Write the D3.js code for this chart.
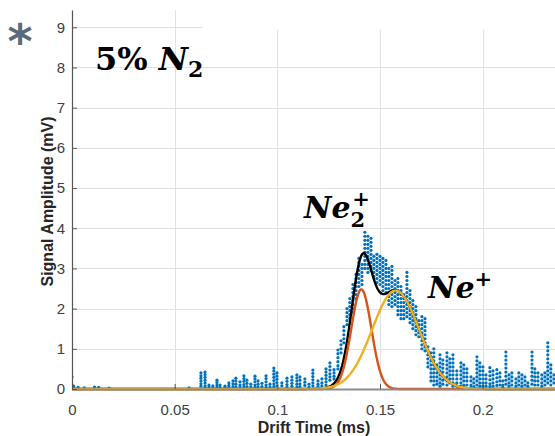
<!DOCTYPE html>
<html>
<head>
<meta charset="utf-8">
<script src="https://cdn.jsdelivr.net/npm/d3@7"></script>
<style>
  html, body { margin: 0; padding: 0; background: #fff; }
  svg { display: block; }
</style>
</head>
<body>
<svg id="chart" width="555" height="436"></svg>
<script>
// Axis ticks
const xTicks = [0, 0.05, 0.1, 0.15, 0.2];
const xTickLabels = ["0", "0.05", "0.1", "0.15", "0.2"];
const yTicks = [0, 1, 2, 3, 4, 5, 6, 7, 8, 9];

// Gaussian fit components: Ne2+ (red), Ne+ (yellow); the black curve is their sum
const fitNames = ["Ne2+", "Ne+"];
const fitAmplitude = [2.48, 2.45];   // mV
const fitCenter = [0.1409, 0.1576];  // ms
const fitSigma = [0.0049, 0.0114];   // ms

// Measured signal, grouped in bursts of samples that share a drift time
const burstTime = [
  0.0000, 0.0008, 0.0030, 0.0060, 0.0110, 0.0130, 0.0180, 0.0570,
  0.0628, 0.0648, 0.0667, 0.0686, 0.0706, 0.0721, 0.0745, 0.0764, 0.0784, 0.0798,
  0.0818, 0.0837, 0.0852, 0.0871, 0.0891, 0.0906, 0.0925, 0.0945, 0.0964, 0.0983,
  0.0998, 0.1022, 0.1047, 0.1071, 0.1095, 0.1110, 0.1134, 0.1154, 0.1173, 0.1198,
  0.1217, 0.1237, 0.1256, 0.1276, 0.1295, 0.1310, 0.1324, 0.1339, 0.1353,
  0.1368, 0.1383, 0.1397, 0.1412, 0.1426, 0.1441, 0.1456, 0.1470, 0.1485, 0.1500,
  0.1514, 0.1529, 0.1543, 0.1558, 0.1573, 0.1587, 0.1602, 0.1616, 0.1631, 0.1646,
  0.1660, 0.1675, 0.1689, 0.1704, 0.1719, 0.1733, 0.1748, 0.1762, 0.1777, 0.1792,
  0.1806, 0.1826, 0.1840, 0.1855, 0.1874, 0.1894, 0.1908, 0.1923, 0.1943, 0.1957,
  0.1972, 0.1986, 0.2001, 0.2016, 0.2035, 0.2050, 0.2069, 0.2084, 0.2098, 0.2113,
  0.2128, 0.2142, 0.2162, 0.2176, 0.2191, 0.2206, 0.2220, 0.2240, 0.2254, 0.2269,
  0.2288, 0.2303, 0.2317, 0.2332, 0.2347
];
const burstSignal = [
  [0.30, 0.10, 0.06], [0.07, 0.04], [0.04], [0.03], [0.05, 0.03], [0.04], [0.02], [0.03],
  [0.40, 0.33, 0.27, 0.20, 0.13, 0.07], [0.42, 0.36, 0.29, 0.22, 0.15, 0.08, 0.04],
  [0.10, 0.05], [0.08, 0.04], [0.22, 0.16, 0.10, 0.05], [0.10, 0.04], [0.07, 0.03],
  [0.15, 0.09, 0.04], [0.20, 0.13, 0.06], [0.27, 0.20, 0.12, 0.05],
  [0.18, 0.10, 0.05], [0.33, 0.26, 0.19, 0.11, 0.05], [0.22, 0.14, 0.06], [0.12, 0.05],
  [0.32, 0.25, 0.18, 0.10, 0.04], [0.20, 0.12, 0.05], [0.14, 0.06],
  [0.33, 0.26, 0.18, 0.10, 0.04], [0.12, 0.05], [0.52, 0.45, 0.37, 0.29, 0.21, 0.13, 0.06],
  [0.40, 0.32, 0.24, 0.16, 0.08], [0.15, 0.08], [0.27, 0.19, 0.11, 0.05],
  [0.30, 0.22, 0.14, 0.07], [0.35, 0.28, 0.20, 0.12, 0.05], [0.30, 0.22, 0.13, 0.06],
  [0.25, 0.17, 0.09], [0.12, 0.05], [0.47, 0.39, 0.31, 0.23, 0.15, 0.08], [0.20, 0.12, 0.06],
  [0.25, 0.15, 0.08], [0.50, 0.42, 0.34, 0.26, 0.18, 0.10], [0.65, 0.56, 0.47, 0.38, 0.30, 0.22],
  [0.48, 0.40, 0.32, 0.25], [0.97, 0.88, 0.78, 0.68, 0.58, 0.50], [1.20, 1.10, 1.00, 0.90],
  [1.55, 1.45, 1.35, 1.25, 1.15], [2.00, 1.90, 1.80, 1.70, 1.60],
  [2.25, 2.15, 2.05, 1.95, 1.85, 1.75],
  [2.60, 2.50, 2.40, 2.30, 2.20, 2.10, 2.00, 1.90], [2.85, 2.75, 2.65, 2.55, 2.45, 2.35, 2.25],
  [3.25, 3.15, 3.05, 2.95, 2.85, 2.75, 2.65, 2.55], [3.10, 3.00, 2.90, 2.80, 2.70, 2.60],
  [3.90, 3.80, 3.70, 3.60, 3.50, 3.40, 3.30, 3.20, 3.10, 3.00],
  [3.80, 3.70, 3.60, 3.50, 3.40, 3.30, 3.20, 3.10, 3.00, 2.90],
  [3.75, 3.65, 3.55, 3.45, 3.35, 3.25, 3.15, 3.05, 2.95],
  [3.30, 3.20, 3.10, 3.00, 2.90, 2.80],
  [3.35, 3.25, 3.15, 3.05, 2.95, 2.85, 2.75, 2.65],
  [3.30, 3.20, 3.10, 3.00, 2.90, 2.80, 2.70, 2.60],
  [3.25, 3.15, 3.05, 2.95, 2.85, 2.75, 2.65, 2.55, 2.45],
  [3.20, 3.10, 3.00, 2.90, 2.80, 2.70, 2.60, 2.50, 2.40],
  [3.00, 2.90, 2.80, 2.70, 2.60, 2.50, 2.40, 2.30, 2.20, 2.10],
  [3.05, 2.95, 2.85, 2.75, 2.65, 2.55, 2.45, 2.35, 2.25, 2.15, 2.05],
  [2.70, 2.60, 2.50, 2.40, 2.30, 2.20, 2.10],
  [2.75, 2.65, 2.55, 2.45, 2.35, 2.25, 2.15, 2.05, 1.95, 1.85],
  [2.55, 2.45, 2.35, 2.25, 2.15, 2.05, 1.95, 1.85, 1.75],
  [2.35, 2.25, 2.15, 2.05, 1.95, 1.85, 1.75],
  [2.90, 2.80, 2.70, 2.60, 2.50, 2.40, 2.30, 2.20, 2.10, 2.00, 1.90, 1.80],
  [2.45, 2.35, 2.25, 2.15, 2.05, 1.95, 1.85, 1.75, 1.65],
  [2.20, 2.10, 2.00, 1.90, 1.80, 1.70, 1.60, 1.50],
  [2.05, 1.95, 1.85, 1.75, 1.65, 1.55, 1.45, 1.35],
  [1.70, 1.60, 1.50, 1.40, 1.30],
  [1.80, 1.70, 1.60, 1.50, 1.40, 1.30, 1.20, 1.10, 1.00],
  [1.75, 1.65, 1.55, 1.45, 1.35, 1.25, 1.15, 1.05, 0.95],
  [1.05, 0.95, 0.85, 0.75, 0.65, 0.55],
  [0.90, 0.80, 0.70, 0.60, 0.50, 0.40, 0.30, 0.20],
  [1.00, 0.90, 0.80, 0.70, 0.60, 0.50, 0.40, 0.30, 0.20, 0.10],
  [0.60, 0.50, 0.40, 0.30, 0.20, 0.12],
  [0.85, 0.75, 0.65, 0.55, 0.45, 0.35, 0.25, 0.15, 0.07],
  [0.72, 0.62, 0.52, 0.42, 0.32, 0.22, 0.12],
  [0.90, 0.80, 0.70, 0.60, 0.50, 0.40, 0.30, 0.20, 0.10],
  [0.75, 0.65, 0.55, 0.45, 0.35, 0.25, 0.15],
  [0.85, 0.75, 0.65, 0.55, 0.45, 0.35, 0.25, 0.15, 0.07],
  [0.45, 0.35, 0.25, 0.15, 0.07], [0.65, 0.55, 0.45, 0.35, 0.25, 0.15, 0.07],
  [0.60, 0.50, 0.40, 0.30, 0.20, 0.10], [0.50, 0.40, 0.30, 0.20, 0.10],
  [0.30, 0.20, 0.10, 0.05], [0.25, 0.15, 0.06],
  [0.80, 0.70, 0.60, 0.50, 0.40, 0.30, 0.20, 0.10], [0.65, 0.55, 0.45, 0.35, 0.25, 0.15, 0.07],
  [0.55, 0.45, 0.35, 0.25, 0.15, 0.07], [0.35, 0.25, 0.15, 0.07],
  [0.53, 0.43, 0.33, 0.23, 0.13, 0.06], [0.45, 0.35, 0.25, 0.15, 0.07],
  [0.48, 0.38, 0.28, 0.18, 0.09], [0.40, 0.30, 0.20, 0.10], [0.20, 0.10, 0.05],
  [0.92, 0.82, 0.72, 0.62, 0.52, 0.42, 0.32, 0.22, 0.12],
  [0.35, 0.25, 0.15, 0.07], [0.40, 0.30, 0.20, 0.10], [0.25, 0.15, 0.07],
  [0.40, 0.30, 0.20, 0.10], [0.35, 0.25, 0.15, 0.07], [0.30, 0.20, 0.10], [0.15, 0.07],
  [0.92, 0.82, 0.72, 0.62, 0.52, 0.42, 0.32, 0.22, 0.12], [0.50, 0.40, 0.30, 0.20, 0.10],
  [0.40, 0.30, 0.20, 0.10], [0.35, 0.25, 0.15, 0.07], [0.40, 0.30, 0.20, 0.10],
  [1.15, 1.05, 0.95, 0.85, 0.75, 0.65, 0.55, 0.45, 0.35, 0.25, 0.15],
  [0.60, 0.50, 0.40, 0.30, 0.20, 0.10], [0.35, 0.25, 0.15]
];

const svg = d3.select("#chart");
const plot = { left: 72, right: 556, top: 10, bottom: 389 };

const x = d3.scaleLinear().domain([0, 0.2357]).range([plot.left, plot.right]);
const y = d3.scaleLinear().domain([0, 9.43]).range([plot.bottom, plot.top]);

svg.append("defs").append("clipPath").attr("id", "plot-clip")
  .append("rect")
  .attr("x", plot.left).attr("y", plot.top - 2)
  .attr("width", plot.right - plot.left).attr("height", plot.bottom - plot.top + 4);

// Grid
const grid = svg.append("g").attr("stroke", "#e1e1e1").attr("stroke-width", 1);
grid.selectAll("line.h").data(yTicks.filter(d => d > 0)).join("line")
  .attr("class", "h")
  .attr("x1", plot.left).attr("x2", plot.right)
  .attr("y1", d => Math.round(y(d)) + 0.5).attr("y2", d => Math.round(y(d)) + 0.5);
grid.selectAll("line.v").data(xTicks.filter(d => d > 0)).join("line")
  .attr("class", "v")
  .attr("y1", plot.top).attr("y2", plot.bottom)
  .attr("x1", d => Math.round(x(d)) + 0.5).attr("x2", d => Math.round(x(d)) + 0.5);

// Text box backdrop along the top edge
svg.append("rect").attr("x", 203).attr("y", 0).attr("width", 360).attr("height", 30)
  .attr("fill", "#fff");

// Measured signal
const samples = burstTime.flatMap((t, i) => burstSignal[i].map(v => ({ t, v })));
svg.append("g").attr("clip-path", "url(#plot-clip)")
  .selectAll("circle").data(samples).join("circle")
  .attr("cx", d => x(d.t)).attr("cy", d => y(d.v)).attr("r", 1.6)
  .attr("fill", "#0072BD");

// Fit curves
const tGrid = d3.range(0, 0.2360, 0.0004);
const gauss = (i, t) => fitAmplitude[i] * Math.exp(-((t - fitCenter[i]) ** 2) / (2 * fitSigma[i] ** 2));
const line = d3.line().x(d => x(d[0])).y(d => y(d[1]));
const curves = [
  { color: "#000000", pts: tGrid.map(t => [t, gauss(0, t) + gauss(1, t)]) },
  { color: "#D95319", pts: tGrid.map(t => [t, gauss(0, t)]) },
  { color: "#EDB120", pts: tGrid.map(t => [t, gauss(1, t)]) }
];
svg.append("g").attr("clip-path", "url(#plot-clip)")
  .selectAll("path").data(curves).join("path")
  .attr("d", d => line(d.pts))
  .attr("fill", "none").attr("stroke", d => d.color).attr("stroke-width", 2.4)
  .attr("stroke-linejoin", "round");

// Axes
const tickFont = "Liberation Sans, Arial, sans-serif";
const xAxis = svg.append("g").attr("transform", `translate(0,${plot.bottom})`)
  .call(d3.axisBottom(x).tickValues(xTicks).tickFormat((d, i) => xTickLabels[i])
    .tickSizeInner(-5).tickSizeOuter(0).tickPadding(15));
xAxis.select(".domain").attr("stroke", "#8c8c8c").attr("stroke-width", 2);
xAxis.selectAll(".tick line").attr("stroke", "#555");
xAxis.selectAll("text").attr("font-family", tickFont).attr("font-size", 15).attr("fill", "#404040");

const yAxis = svg.append("g").attr("transform", `translate(${plot.left},0)`)
  .call(d3.axisLeft(y).tickValues(yTicks).tickFormat(d3.format("d"))
    .tickSizeInner(-5).tickSizeOuter(0).tickPadding(7));
yAxis.select(".domain").attr("stroke", "#555").attr("stroke-width", 1.2);
yAxis.selectAll(".tick line").attr("stroke", "#555");
yAxis.selectAll("text").attr("font-family", tickFont).attr("font-size", 15).attr("fill", "#404040");

// Axis titles
svg.append("text").attr("x", (plot.left + plot.right) / 2).attr("y", 433)
  .attr("text-anchor", "middle").attr("font-family", tickFont).attr("font-weight", "bold")
  .attr("font-size", 16).attr("fill", "#262626").text("Drift Time (ms)");
svg.append("text")
  .attr("transform", `translate(53,${(plot.top + plot.bottom) / 2 + 2}) rotate(-90)`)
  .attr("text-anchor", "middle").attr("font-family", tickFont).attr("font-weight", "bold")
  .attr("font-size", 16).attr("fill", "#262626").text("Signal Amplitude (mV)");

// Annotations
const mathFont = "DejaVu Serif, Liberation Serif, serif";
const title = svg.append("text").attr("x", 95).attr("y", 70)
  .attr("font-family", mathFont).attr("font-weight", "bold").attr("font-size", 32).attr("fill", "#000");
title.append("tspan").text("5% ");
title.append("tspan").attr("font-style", "italic").text("N");
title.append("tspan").attr("font-size", 22).attr("dy", 7).text("2");

const ne2 = svg.append("text").attr("x", 304).attr("y", 218)
  .attr("font-family", mathFont).attr("font-weight", "bold").attr("font-size", 30).attr("fill", "#000");
ne2.append("tspan").attr("font-style", "italic").text("Ne");
ne2.append("tspan").attr("font-size", 21).attr("dy", 9).text("2");
ne2.append("tspan").attr("font-size", 21).attr("dx", -13).attr("dy", -21).text("+");

const ne = svg.append("text").attr("x", 428).attr("y", 298)
  .attr("font-family", mathFont).attr("font-weight", "bold").attr("font-size", 30).attr("fill", "#000");
ne.append("tspan").attr("font-style", "italic").text("Ne");
ne.append("tspan").attr("font-size", 21).attr("dy", -12).text("+");

svg.append("text").attr("x", 20).attr("y", 58).attr("text-anchor", "middle")
  .attr("font-family", "DejaVu Sans, sans-serif").attr("font-weight", "bold")
  .attr("font-size", 48).attr("fill", "#5b6b7c").text("*");
</script>
</body>
</html>
